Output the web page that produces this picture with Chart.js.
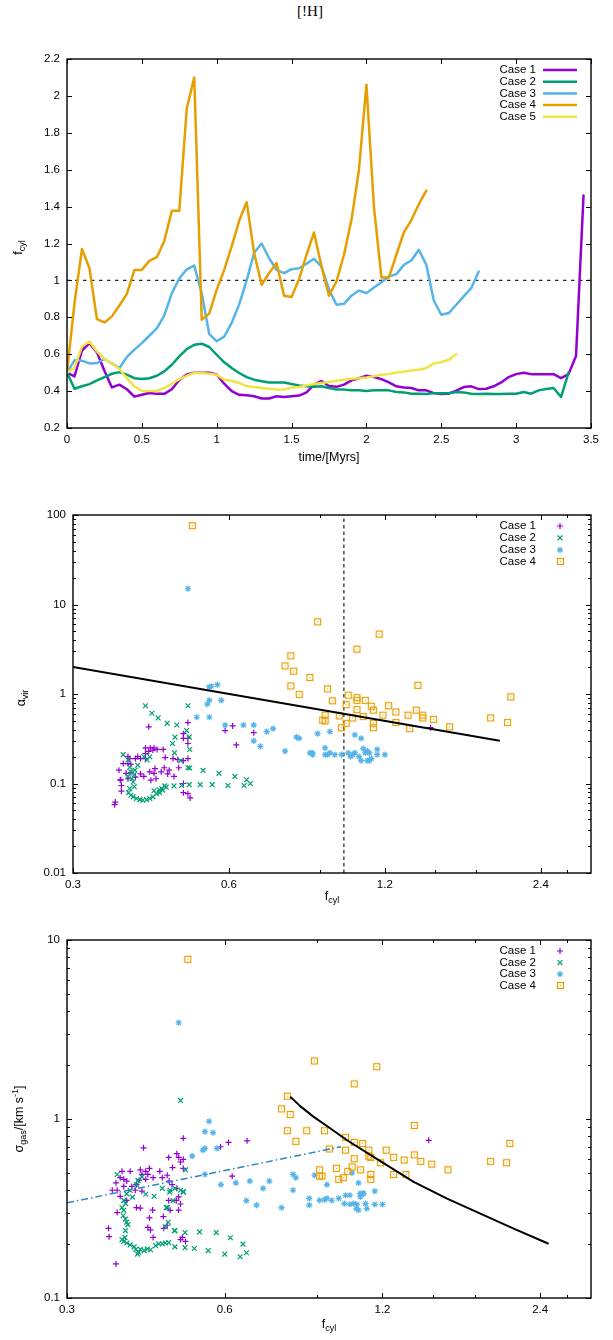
<!DOCTYPE html>
<html><head><meta charset="utf-8">
<script src="https://cdn.jsdelivr.net/npm/chart.js@4/dist/chart.umd.min.js"></script>
<style>
html,body{margin:0;padding:0;background:#fff;width:613px;height:1340px;overflow:hidden;}
#title{position:absolute;left:0;width:620px;top:3px;text-align:center;font-family:"Liberation Serif","DejaVu Serif",serif;font-size:15px;color:#000;}
canvas{position:absolute;left:0;}
</style></head><body>
<div id="title">[!H]</div>
<canvas id="c1" width="613" height="475" style="top:0px"></canvas>
<canvas id="c2" width="613" height="440" style="top:475px"></canvas>
<canvas id="c3" width="613" height="425" style="top:915px"></canvas>
<script>
// ---------------- DATA ----------------
const TIME = [0,0.05,0.1,0.15,0.2,0.25,0.3,0.35,0.4,0.45,
  0.5,0.55,0.6,0.65,0.7,0.75,0.8,0.85,0.9,0.95,
  1.0,1.05,1.1,1.15,1.2,1.25,1.3,1.35,1.4,1.45,
  1.5,1.55,1.6,1.65,1.7,1.75,1.8,1.85,1.9,1.95,
  2.0,2.05,2.1,2.15,2.2,2.25,2.3,2.35,2.4,2.45,
  2.5,2.55,2.6,2.65,2.7,2.75,2.8,2.85,2.9,2.95,
  3.0,3.05,3.1,3.15,3.2,3.25,3.3,3.35,3.4,3.45];

const FCYL_CASE1 = [0.50,0.48,0.62,0.66,0.61,0.51,0.42,0.435,0.41,0.37,
  0.38,0.39,0.385,0.385,0.41,0.46,0.49,0.50,0.50,0.50,
  0.49,0.44,0.40,0.38,0.377,0.372,0.36,0.36,0.372,0.368,
  0.372,0.376,0.393,0.435,0.455,0.428,0.423,0.435,0.458,0.47,
  0.483,0.476,0.465,0.447,0.426,0.42,0.417,0.404,0.404,0.389,
  0.384,0.386,0.402,0.422,0.426,0.411,0.413,0.426,0.447,0.476,
  0.492,0.50,0.492,0.492,0.492,0.492,0.47,0.492,0.59,1.46];
const FCYL_CASE2 = [0.50,0.413,0.426,0.438,0.458,0.476,0.494,0.503,0.489,0.47,
  0.465,0.47,0.483,0.507,0.543,0.588,0.628,0.651,0.657,0.639,
  0.597,0.556,0.525,0.498,0.476,0.462,0.453,0.447,0.447,0.447,
  0.438,0.431,0.426,0.423,0.426,0.417,0.408,0.408,0.404,0.404,
  0.40,0.404,0.404,0.404,0.395,0.393,0.386,0.386,0.384,0.389,
  0.389,0.389,0.395,0.393,0.386,0.384,0.386,0.384,0.384,0.386,
  0.386,0.395,0.386,0.404,0.411,0.417,0.368,0.50];
const FCYL_CASE3 = [0.50,0.567,0.565,0.55,0.552,0.574,0.55,0.525,0.585,0.625,
  0.66,0.70,0.74,0.81,0.93,1.01,1.06,1.08,
  0.93,0.71,0.67,0.695,0.77,0.87,1.0,1.15,1.20,1.12,
  1.057,1.039,1.061,1.066,1.09,1.117,1.075,0.95,0.868,0.873,
  0.917,0.945,0.931,0.962,0.99,1.021,1.034,1.084,1.108,1.166,
  1.084,0.891,0.814,0.823,0.868,0.913,0.958,1.048];
const FCYL_CASE4 = [0.50,0.877,1.17,1.066,0.79,0.772,0.805,0.864,0.927,1.057,
  1.057,1.106,1.126,1.214,1.377,1.377,1.933,2.10,0.787,0.82,
  0.95,1.057,1.184,1.323,1.424,1.148,0.976,1.04,1.094,0.917,
  0.91,1.007,1.139,1.26,1.075,0.917,0.994,1.139,1.327,1.60,
  2.06,1.40,1.016,1.016,1.139,1.26,1.327,1.413,1.487];
const FCYL_CASE5 = [0.50,0.525,0.642,0.669,0.615,0.574,0.55,0.52,0.47,0.426,
  0.402,0.40,0.402,0.417,0.44,0.465,0.483,0.498,0.498,0.494,
  0.489,0.462,0.456,0.444,0.426,0.422,0.417,0.413,0.408,0.408,
  0.42,0.422,0.431,0.438,0.444,0.449,0.456,0.462,0.467,0.47,
  0.474,0.48,0.489,0.492,0.501,0.505,0.512,0.516,0.525,0.55,
  0.557,0.57,0.60];
const REF_TIME = [0, 3.5];
const REF_FCYL = [1, 1];

// alpha_vir vs f_cyl  ([f_cyl, alpha_vir])
const ALPHA_CASE1 = [[0.42,0.43],[0.50,0.48],[0.59,0.39],[0.61,0.44],[0.67,0.37],[0.62,0.27],[0.49,0.36],[0.49,0.32],[0.50,0.32],[0.50,0.28],
  [0.49,0.18],[0.50,0.19],[0.48,0.15],[0.49,0.10],[0.49,0.079],[0.50,0.077],[0.505,0.069],[0.47,0.12],[0.457,0.128],[0.444,0.135],
  [0.43,0.13],[0.434,0.113],[0.424,0.109],[0.411,0.12],[0.405,0.128],[0.396,0.118],[0.388,0.132],[0.383,0.113],[0.38,0.13],[0.371,0.11],
  [0.368,0.141],[0.383,0.167],[0.388,0.164],[0.396,0.19],[0.405,0.19],[0.414,0.19],[0.386,0.19],[0.383,0.20],[0.375,0.167],[0.40,0.20],
  [0.414,0.25],[0.423,0.25],[0.43,0.25],[0.428,0.236],[0.436,0.24],[0.448,0.24],[0.42,0.229],[0.414,0.216],[0.452,0.195],[0.468,0.19],
  [0.478,0.185],[0.432,0.147],[0.422,0.135],[0.45,0.15],[0.46,0.141],[0.362,0.062],[0.361,0.058],[0.37,0.109],[0.372,0.095],[0.372,0.082],
  [1.47,0.42]];
const ALPHA_CASE2 = [[0.414,0.74],[0.426,0.61],[0.438,0.54],[0.456,0.47],[0.476,0.45],[0.50,0.74],[0.497,0.39],[0.503,0.33],[0.504,0.24],[0.472,0.33],
  [0.467,0.28],[0.471,0.22],[0.484,0.18],[0.504,0.149],[0.535,0.14],[0.574,0.13],[0.616,0.12],[0.649,0.11],[0.66,0.10],[0.642,0.095],
  [0.597,0.095],[0.557,0.097],[0.528,0.097],[0.503,0.097],[0.486,0.095],[0.47,0.094],[0.451,0.094],[0.445,0.088],[0.44,0.085],[0.43,0.083],
  [0.375,0.21],[0.383,0.183],[0.386,0.152],[0.388,0.135],[0.383,0.12],[0.39,0.113],[0.392,0.104],[0.394,0.092],[0.386,0.088],[0.384,0.079],
  [0.388,0.074],[0.392,0.071],[0.398,0.068],[0.404,0.066],[0.409,0.065],[0.416,0.066],[0.422,0.068],[0.428,0.071],[0.435,0.077],[0.441,0.079],
  [0.447,0.084],[0.454,0.091],[0.411,0.199],[0.417,0.183],[0.40,0.16],[0.394,0.126],[0.395,0.141],[0.422,0.199],[0.50,0.15]];
const ALPHA_CASE3 = [[0.50,15],[0.55,1.20],[0.555,1.22],[0.57,1.27],[0.55,0.85],[0.545,0.77],[0.58,0.85],[0.52,0.55],[0.55,0.55],[0.59,0.45],
  [0.64,0.45],[0.67,0.45],[0.67,0.30],[0.69,0.26],[0.71,0.38],[0.73,0.41],[0.77,0.23],[0.81,0.33],[0.82,0.32],[0.86,0.22],
  [0.87,0.22],[0.87,0.21],[0.89,0.36],[0.94,0.38],[0.92,0.25],[0.94,0.22],[0.92,0.21],[0.93,0.21],[0.96,0.21],[0.99,0.21],
  [1.02,0.22],[1.04,0.21],[1.05,0.22],[1.07,0.20],[1.08,0.18],[1.10,0.22],[1.09,0.245],[1.11,0.18],[1.12,0.22],[1.11,0.23],
  [1.05,0.35],[1.08,0.32],[1.16,0.24],[1.20,0.21],[1.16,0.21],[1.03,0.20],[1.13,0.19],[1.12,0.18]];
const ALPHA_CASE4 = [[0.51,76],[0.79,2.67],[0.77,2.06],[0.80,1.80],[0.79,1.23],[0.82,0.99],[0.86,1.53],[0.89,6.4],[1.17,4.67],[1.06,3.17],
  [0.93,1.14],[0.95,0.84],[1.02,0.97],[1.06,0.91],[1.06,0.85],[1.10,0.85],[1.01,0.76],[1.06,0.67],[1.13,0.73],[1.14,0.66],
  [1.22,0.74],[1.26,0.63],[1.19,0.58],[1.09,0.56],[1.04,0.54],[0.98,0.57],[0.92,0.58],[0.91,0.51],[0.92,0.50],[1.01,0.47],
  [0.99,0.42],[1.14,0.47],[1.14,0.42],[1.26,0.48],[1.34,0.41],[1.33,0.58],[1.38,0.66],[1.42,0.58],[1.42,0.54],[1.49,0.52],
  [1.39,1.25],[1.60,0.43],[1.92,0.54],[2.07,0.48],[2.10,0.93]];
const ALPHA_FIT_F = [0.3, 2.0];
const ALPHA_FIT_A = [2.0, 0.3];
const ALPHA_VLINE_F = [1.0, 1.0];
const ALPHA_VLINE_A = [0.01, 100];

// sigma_gas vs f_cyl ([f_cyl, sigma_gas])
const SIGMA_CASE1 = [[0.50,0.78],[0.42,0.69],[0.486,0.64],[0.49,0.61],[0.494,0.575],[0.50,0.595],[0.469,0.61],[0.477,0.535],[0.589,0.70],[0.61,0.74],
  [0.662,0.755],[0.62,0.479],[0.382,0.51],[0.396,0.51],[0.414,0.52],[0.424,0.51],[0.431,0.53],[0.428,0.49],[0.417,0.49],[0.451,0.51],
  [0.438,0.47],[0.456,0.47],[0.47,0.45],[0.39,0.45],[0.385,0.46],[0.379,0.47],[0.372,0.44],[0.366,0.40],[0.374,0.40],[0.379,0.37],
  [0.385,0.42],[0.405,0.40],[0.417,0.395],[0.424,0.46],[0.412,0.455],[0.399,0.42],[0.407,0.43],[0.39,0.351],[0.407,0.32],[0.414,0.318],
  [0.431,0.28],[0.437,0.31],[0.428,0.248],[0.433,0.24],[0.458,0.285],[0.459,0.245],[0.466,0.255],[0.438,0.218],[0.469,0.351],[0.472,0.309],
  [0.49,0.367],[0.494,0.335],[0.485,0.351],[0.486,0.41],[0.49,0.31],[0.36,0.245],[0.361,0.22],[0.372,0.155],[0.374,0.30],[0.498,0.218],
  [0.494,0.212],[0.505,0.207],[0.476,0.43],[0.466,0.485],[0.50,0.53],[1.47,0.76]];
const SIGMA_CASE2 = [[0.494,1.27],[0.505,0.52],[0.374,0.49],[0.41,0.454],[0.417,0.475],[0.407,0.43],[0.39,0.382],[0.396,0.399],[0.40,0.366],[0.385,0.351],
  [0.388,0.337],[0.382,0.32],[0.385,0.309],[0.384,0.288],[0.388,0.276],[0.39,0.265],[0.392,0.257],[0.388,0.238],[0.387,0.218],[0.382,0.212],
  [0.385,0.207],[0.39,0.203],[0.396,0.198],[0.403,0.193],[0.406,0.187],[0.411,0.18],[0.409,0.176],[0.414,0.187],[0.421,0.184],[0.427,0.188],
  [0.433,0.186],[0.443,0.196],[0.449,0.201],[0.456,0.201],[0.462,0.203],[0.469,0.204],[0.482,0.238],[0.504,0.232],[0.537,0.234],[0.578,0.232],
  [0.615,0.217],[0.65,0.20],[0.66,0.179],[0.642,0.17],[0.60,0.176],[0.558,0.184],[0.525,0.189],[0.504,0.191],[0.482,0.193],[0.456,0.41],
  [0.471,0.39],[0.482,0.41],[0.494,0.40],[0.50,0.39],[0.424,0.38],[0.44,0.37],[0.467,0.32],[0.472,0.40],[0.462,0.25],[0.50,0.393],
  [0.478,0.35],[0.464,0.32],[0.468,0.265],[0.481,0.238]];
const SIGMA_CASE3 = [[0.49,3.45],[0.56,0.97],[0.55,0.85],[0.57,0.84],[0.545,0.67],[0.55,0.685],[0.52,0.62],[0.58,0.685],[0.55,0.49],[0.59,0.43],
  [0.63,0.44],[0.67,0.45],[0.71,0.41],[0.73,0.45],[0.66,0.35],[0.69,0.33],[0.77,0.32],[0.81,0.40],[0.81,0.49],[0.82,0.47],
  [0.87,0.36],[0.87,0.33],[0.89,0.485],[0.94,0.43],[0.91,0.351],[0.93,0.354],[0.94,0.36],[0.96,0.351],[0.99,0.36],[1.05,0.50],
  [1.02,0.375],[1.04,0.375],[1.015,0.337],[1.04,0.334],[1.058,0.337],[1.07,0.316],[1.08,0.31],[1.089,0.367],[1.087,0.383],[1.105,0.383],
  [1.114,0.337],[1.12,0.316],[1.072,0.333],[1.16,0.395],[1.16,0.333],[1.20,0.333],[1.10,0.385],[1.08,0.44]];
const SIGMA_CASE4 = [[0.51,7.8],[0.79,1.34],[0.77,1.14],[0.80,1.06],[0.79,0.86],[0.82,0.75],[0.86,0.86],[0.89,2.11],[1.17,1.96],[1.06,1.57],
  [0.93,0.86],[1.02,0.79],[1.06,0.74],[1.10,0.73],[1.02,0.67],[0.95,0.68],[1.13,0.67],[1.14,0.61],[1.13,0.62],[1.22,0.67],
  [1.26,0.61],[1.19,0.57],[1.06,0.60],[1.09,0.52],[1.05,0.54],[1.03,0.51],[0.98,0.53],[0.91,0.52],[0.91,0.48],[0.92,0.48],
  [0.99,0.46],[1.01,0.47],[1.14,0.49],[1.14,0.46],[1.26,0.49],[1.33,0.49],[1.32,0.59],[1.38,0.63],[1.42,0.58],[1.49,0.56],
  [1.60,0.52],[1.38,0.92],[1.93,0.58],[2.07,0.57],[2.10,0.73]];
const SIGMA_CURVE_F = [0.80,0.836,0.887,0.955,1.027,1.189,1.376,1.594,1.845,2.136,2.49];
const SIGMA_CURVE_S = [1.33,1.18,1.028,0.885,0.761,0.581,0.445,0.359,0.296,0.244,0.201];
const SIGMA_FIT_F = [0.3, 1.0];
const SIGMA_FIT_S = [0.34, 0.70];

// tick values and labels
const TIME_TICKS = [0,0.5,1,1.5,2,2.5,3,3.5];
const TIME_TICK_LABELS = ['0','0.5','1','1.5','2','2.5','3','3.5'];
const FCYL_TICKS = [0.2,0.4,0.6,0.8,1.0,1.2,1.4,1.6,1.8,2.0,2.2];
const FCYL_TICK_LABELS = ['0.2','0.4','0.6','0.8','1','1.2','1.4','1.6','1.8','2','2.2'];
const LOGF_TICKS = [0.3,0.6,1.2,2.4];
const LOGF_TICK_LABELS = ['0.3','0.6','1.2','2.4'];
const LOGF_MINOR = [0.9,1.5,1.8,2.7];
const ALPHA_TICKS = [0.01,0.1,1,10,100];
const ALPHA_TICK_LABELS = ['0.01','0.1','1','10','100'];
const SIGMA_TICKS = [0.1,1,10];
const SIGMA_TICK_LABELS = ['0.1','1','10'];
const CASE_LABELS = ['Case 1','Case 2','Case 3','Case 4','Case 5'];

// ---------------- STYLE ----------------
const COLORS = ['#9400d3','#009e73','#56b4e9','#e69f00','#f0e442'];
const FONT = '"Liberation Sans", Arial, Helvetica, sans-serif';

function minorLog(decades){
  const out=[];
  decades.forEach(d=>{for(let k=2;k<=9;k++) out.push(d*k);});
  return out;
}
function pairs(xs, ys){ return xs.map((x,i)=>({x:x,y:ys[i]})); }
function pts(arr){ return arr.map(p=>({x:p[0],y:p[1]})); }

function makeSquare(color){
  const c=document.createElement('canvas'); c.width=9; c.height=9;
  const g=c.getContext('2d');
  g.strokeStyle=color; g.lineWidth=1.2; g.strokeRect(1.5,1.5,6,6);
  g.fillStyle=color; g.fillRect(4,4,1,1);
  return c;
}
const SQUARE = makeSquare(COLORS[3]);

function drawMarker(ctx, style, color, x, y){
  ctx.save(); ctx.strokeStyle=color; ctx.lineWidth=1.2; ctx.beginPath();
  if(style==='cross'){ ctx.moveTo(x-3,y); ctx.lineTo(x+3,y); ctx.moveTo(x,y-3); ctx.lineTo(x,y+3); }
  else if(style==='crossRot'){ const r=2.4; ctx.moveTo(x-r,y-r); ctx.lineTo(x+r,y+r); ctx.moveTo(x-r,y+r); ctx.lineTo(x+r,y-r); }
  else if(style==='star'){ const r=3.1, q=r*0.707; ctx.moveTo(x-r,y); ctx.lineTo(x+r,y); ctx.moveTo(x,y-r); ctx.lineTo(x,y+r); ctx.moveTo(x-q,y-q); ctx.lineTo(x+q,y+q); ctx.moveTo(x-q,y+q); ctx.lineTo(x+q,y-q); }
  ctx.stroke();
  if(style==='square'){ ctx.drawImage(SQUARE, Math.round(x-4.5), Math.round(y-4.5)); }
  ctx.restore();
}

function drawRich(ctx, segs, cx, cy, rot){
  ctx.save(); ctx.translate(cx,cy); ctx.rotate(rot);
  const mainF='12.5px '+FONT, smallF='9px '+FONT;
  let w=0;
  segs.forEach(s=>{ctx.font=s.s?smallF:mainF; s.w=ctx.measureText(s.t).width; w+=s.w;});
  let x=-w/2; ctx.textAlign='left'; ctx.textBaseline='middle'; ctx.fillStyle='#000';
  segs.forEach(s=>{ctx.font=s.s?smallF:mainF; const dy=s.s==='sub'?4:(s.s==='sup'?-4:0); ctx.fillText(s.t,x,dy); x+=s.w;});
  ctx.restore();
}

function axesPlugin(o){
  return {id:'axes_'+o.id, afterDraw(chart){
    const ctx=chart.ctx, xs=chart.scales.x, ys=chart.scales.y, a=chart.chartArea;
    ctx.save();
    ctx.strokeStyle='#000'; ctx.lineWidth=1;
    ctx.beginPath();
    const L=5, Lm=3;
    const vx=(vals,len)=>vals.forEach(v=>{const p=Math.round(xs.getPixelForValue(v))+0.5;
      ctx.moveTo(p,a.bottom); ctx.lineTo(p,a.bottom-len); ctx.moveTo(p,a.top); ctx.lineTo(p,a.top+len);});
    const vy=(vals,len)=>vals.forEach(v=>{const p=Math.round(ys.getPixelForValue(v))+0.5;
      ctx.moveTo(a.left,p); ctx.lineTo(a.left+len,p); ctx.moveTo(a.right,p); ctx.lineTo(a.right-len,p);});
    vx(o.xMajor,L); vx(o.xMinor||[],Lm); vy(o.yMajor,L); vy(o.yMinor||[],Lm);
    ctx.stroke();
    ctx.lineWidth=1.4;
    ctx.strokeRect(a.left,a.top,a.right-a.left,a.bottom-a.top);
    ctx.fillStyle='#000'; ctx.font='11.5px '+FONT;
    ctx.textAlign='center'; ctx.textBaseline='middle';
    o.xMajor.forEach((v,i)=>ctx.fillText(o.xLabels[i], xs.getPixelForValue(v), a.bottom+12));
    ctx.textAlign='right';
    o.yMajor.forEach((v,i)=>ctx.fillText(o.yLabels[i], a.left-7, ys.getPixelForValue(v)));
    drawRich(ctx, o.xTitle, (a.left+a.right)/2, a.bottom+o.xTitleOff, 0);
    drawRich(ctx, o.yTitle, o.yTitleX, (a.top+a.bottom)/2+o.yTitleDy, -Math.PI/2);
    // legend
    ctx.font='11.5px '+FONT; ctx.textBaseline='middle';
    o.legend.forEach((it,i)=>{
      const y=a.top+o.legTop+i*o.legDy;
      ctx.textAlign='right'; ctx.fillStyle='#000'; ctx.fillText(it.label, 536, y);
      if(it.style==='line'){ ctx.save(); ctx.strokeStyle=it.color; ctx.lineWidth=2.5; ctx.beginPath(); ctx.moveTo(543,y); ctx.lineTo(577,y); ctx.stroke(); ctx.restore(); }
      else drawMarker(ctx, it.style, it.color, 560, y);
    });
    ctx.restore();
  }};
}

const baseOpts = (pad, xscale, yscale) => ({
  responsive:false, animation:false, devicePixelRatio:1,
  layout:{padding:pad},
  plugins:{legend:{display:false}, tooltip:{enabled:false}},
  scales:{x:Object.assign({display:false},xscale), y:Object.assign({display:false},yscale)},
  elements:{line:{tension:0}}
});

// ---------------- PANEL 1 ----------------
const topSeries = [FCYL_CASE1,FCYL_CASE2,FCYL_CASE3,FCYL_CASE4,FCYL_CASE5];
const ds1 = topSeries.map((vals,i)=>({
  label:CASE_LABELS[i], data:pairs(TIME.slice(0,vals.length), vals),
  showLine:true, pointRadius:0, borderColor:COLORS[i], borderWidth:2.5,
  borderJoinStyle:'round', borderCapStyle:'round', fill:false, order:5-i
}));
ds1.push({label:'ref', data:pairs(REF_TIME,REF_FCYL), showLine:true, pointRadius:0,
  borderColor:'#222', borderWidth:1.2, borderDash:[3.5,4.5], fill:false, order:10});
new Chart(document.getElementById('c1'), {
  type:'scatter', data:{datasets:ds1},
  options:baseOpts({left:67,right:22,top:59,bottom:47},{type:'linear',min:0,max:3.5},{type:'linear',min:0.2,max:2.2}),
  plugins:[axesPlugin({id:1, xMajor:TIME_TICKS, xLabels:TIME_TICK_LABELS, yMajor:FCYL_TICKS, yLabels:FCYL_TICK_LABELS,
    xTitle:[{t:'time/[Myrs]'}], xTitleOff:30, yTitle:[{t:'f'},{t:'cyl',s:'sub'}], yTitleX:19, yTitleDy:4,
    legend:CASE_LABELS.map((l,i)=>({label:l,style:'line',color:COLORS[i]})), legTop:11, legDy:11.7})]
});

// ---------------- PANEL 2 & 3 ----------------
const STYLES = ['cross','crossRot','star','square'];
function scatterSets(series){
  return series.map((arr,i)=>({
    label:CASE_LABELS[i], data:pts(arr), showLine:false,
    pointStyle: i===3?SQUARE:STYLES[i], pointRadius: i===0?3:(i===1?3.4:3.1),
    borderColor:COLORS[i], backgroundColor:COLORS[i], pointBorderWidth:1.2, order:5-i
  }));
}
const ds2 = scatterSets([ALPHA_CASE1,ALPHA_CASE2,ALPHA_CASE3,ALPHA_CASE4]);
ds2.push({label:'fit', data:pairs(ALPHA_FIT_F,ALPHA_FIT_A), showLine:true, pointRadius:0, borderColor:'#000', borderWidth:2, order:0});
ds2.push({label:'vline', data:pairs(ALPHA_VLINE_F,ALPHA_VLINE_A), showLine:true, pointRadius:0, borderColor:'#555', borderWidth:1.6, borderDash:[3.5,3], order:10});
const scatterLegend = CASE_LABELS.slice(0,4).map((l,i)=>({label:l, style:STYLES[i], color:COLORS[i]}));
new Chart(document.getElementById('c2'), {
  type:'scatter', data:{datasets:ds2},
  options:baseOpts({left:73,right:22,top:40,bottom:42},{type:'logarithmic',min:0.3,max:3},{type:'logarithmic',min:0.01,max:100}),
  plugins:[axesPlugin({id:2, xMajor:LOGF_TICKS, xLabels:LOGF_TICK_LABELS, xMinor:LOGF_MINOR,
    yMajor:ALPHA_TICKS, yLabels:ALPHA_TICK_LABELS, yMinor:minorLog([0.01,0.1,1,10]),
    xTitle:[{t:'f'},{t:'cyl',s:'sub'}], xTitleOff:24, yTitle:[{t:'α'},{t:'vir',s:'sub'}], yTitleX:22, yTitleDy:4,
    legend:scatterLegend, legTop:11, legDy:11.9})]
});

const ds3 = scatterSets([SIGMA_CASE1,SIGMA_CASE2,SIGMA_CASE3,SIGMA_CASE4]);
ds3.push({label:'curve', data:pairs(SIGMA_CURVE_F,SIGMA_CURVE_S), showLine:true, pointRadius:0, borderColor:'#000', borderWidth:2, borderJoinStyle:'round', tension:0, order:0});
ds3.push({label:'fit', data:pairs(SIGMA_FIT_F,SIGMA_FIT_S), showLine:true, pointRadius:0, borderColor:'#2a85c4', borderWidth:1.5, borderDash:[7,3,1.5,3], order:0});
new Chart(document.getElementById('c3'), {
  type:'scatter', data:{datasets:ds3},
  options:baseOpts({left:67,right:22,top:25,bottom:42},{type:'logarithmic',min:0.3,max:3},{type:'logarithmic',min:0.1,max:10}),
  plugins:[axesPlugin({id:3, xMajor:LOGF_TICKS, xLabels:LOGF_TICK_LABELS, xMinor:LOGF_MINOR,
    yMajor:SIGMA_TICKS, yLabels:SIGMA_TICK_LABELS, yMinor:minorLog([0.1,1]),
    xTitle:[{t:'f'},{t:'cyl',s:'sub'}], xTitleOff:27, yTitle:[{t:'σ'},{t:'gas',s:'sub'},{t:'/[km s'},{t:'-1',s:'sup'},{t:']'}], yTitleX:20, yTitleDy:0,
    legend:scatterLegend, legTop:11, legDy:11.6})]
});
</script>
</body></html>
